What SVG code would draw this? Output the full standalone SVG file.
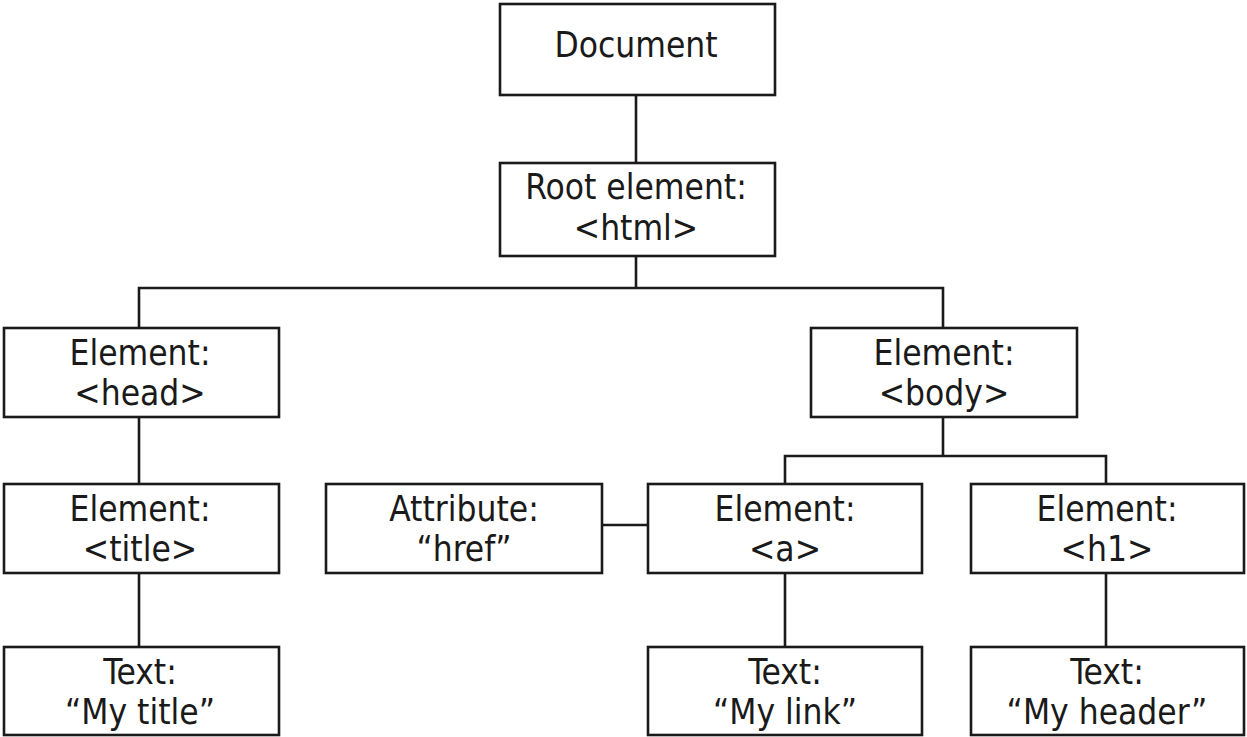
<svg xmlns="http://www.w3.org/2000/svg" width="1247" height="737" viewBox="0 0 1247 737">
<style>
.box{fill:#fff;stroke:#1a1a1a;stroke-width:2.6}
.ln{fill:none;stroke:#1a1a1a;stroke-width:2.6}
text{font-family:"DejaVu Sans Condensed","DejaVu Sans",sans-serif;font-stretch:condensed;font-size:35px;fill:#1a1a1a;text-anchor:middle}
</style>
<rect width="1247" height="737" fill="#fff"/>
<g id="connectors">
<line class="ln" x1="636" y1="95" x2="636" y2="163"/>
<path class="ln" d="M636 256V288M139 328V288H943V328"/>
<line class="ln" x1="139" y1="417" x2="139" y2="484"/>
<line class="ln" x1="139" y1="573" x2="139" y2="647"/>
<path class="ln" d="M943 417V456M785 484V456H1106V484"/>
<line class="ln" x1="602" y1="525" x2="648" y2="525"/>
<line class="ln" x1="785" y1="573" x2="785" y2="647"/>
<line class="ln" x1="1106" y1="573" x2="1106" y2="647"/>
</g>
<g id="document"><rect class="box" x="500" y="4" width="275" height="91"/><text x="636" y="57">Document</text></g>
<g id="root"><rect class="box" x="500" y="163" width="275" height="93"/><text x="636" y="199">Root element:</text><text x="636" y="240">&lt;html&gt;</text></g>
<g id="head"><rect class="box" x="4" y="328" width="275" height="89"/><text x="140" y="365">Element:</text><text x="140" y="405">&lt;head&gt;</text></g>
<g id="body"><rect class="box" x="811" y="328" width="266" height="89"/><text x="944" y="365">Element:</text><text x="944" y="405">&lt;body&gt;</text></g>
<g id="title"><rect class="box" x="4" y="484" width="275" height="89"/><text x="140" y="521">Element:</text><text x="140" y="561">&lt;title&gt;</text></g>
<g id="attr"><rect class="box" x="326" y="484" width="276" height="89"/><text x="464" y="521">Attribute:</text><text x="464" y="561">“href”</text></g>
<g id="a"><rect class="box" x="648" y="484" width="274" height="89"/><text x="785" y="521">Element:</text><text x="785" y="561">&lt;a&gt;</text></g>
<g id="h1"><rect class="box" x="971" y="484" width="273" height="89"/><text x="1107" y="521">Element:</text><text x="1107" y="561">&lt;h1&gt;</text></g>
<g id="text-title"><rect class="box" x="4" y="647" width="275" height="88"/><text x="140" y="684">Text:</text><text x="140" y="724">“My title”</text></g>
<g id="text-link"><rect class="box" x="648" y="647" width="274" height="88"/><text x="785" y="684">Text:</text><text x="785" y="724">“My link”</text></g>
<g id="text-header"><rect class="box" x="971" y="647" width="273" height="88"/><text x="1107" y="684">Text:</text><text x="1107" y="724">“My header”</text></g>
</svg>
